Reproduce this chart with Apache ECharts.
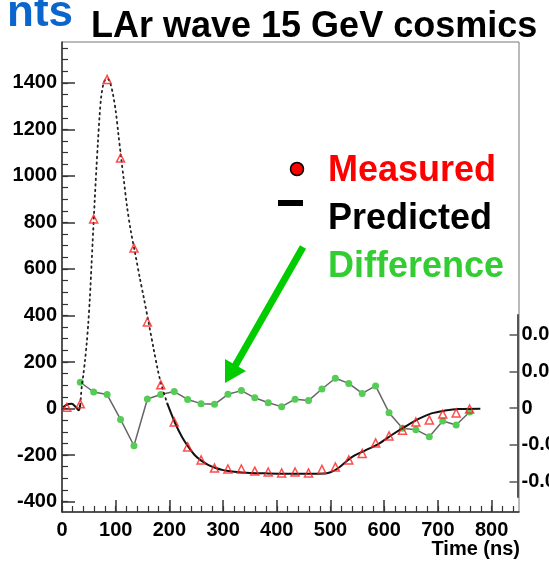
<!DOCTYPE html>
<html>
<head>
<meta charset="utf-8">
<script src="https://cdn.jsdelivr.net/npm/echarts@6/dist/echarts.min.js"></script>
<style>
html, body { margin: 0; padding: 0; background: #fff; }
#main { width: 549px; height: 561px; }
</style>
</head>
<body>
<div id="main"></div>
<script>
// samples every 25 ns
var sampleTime = [9, 34, 59, 84, 109, 134, 159, 184, 209, 234, 259, 284, 309, 334, 359, 384, 409, 434, 459, 484, 509, 534, 559, 584, 609, 634, 659, 684, 709, 734, 759];
var measured = [5, 20, 815, 1415, 1077, 690, 372, 102, -58, -165, -221, -256, -260, -260, -269, -273, -277, -273, -277, -262, -251, -221, -193, -148, -118, -93, -58, -49, -24, -19, -2];

var diffTime = [34, 59, 84, 109, 134, 159, 184, 209, 234, 259, 284, 309, 334, 359, 384, 409, 434, 459, 484, 509, 534, 559, 584, 609, 634, 659, 684, 709, 734, 759];
var difference = [113, 71, 60, -47, -160, 41, 60, 73, 39, 21, 18, 61, 77, 46, 25, 8, 40, 34, 84, 130, 108, 65, 97, -18, -85, -91, -121, -54, -71, -15];

var predTime = [2, 10, 18, 25, 31, 34, 37, 40, 43, 46, 49, 52, 55, 58, 61, 64, 67, 70, 73, 77, 81, 85, 90, 95, 100, 105, 110, 115, 121, 128, 136, 145, 152, 161, 171, 178, 185, 196, 210, 224, 235, 247, 258, 272, 285, 300, 321, 350, 383, 420, 460, 490, 500, 514, 539, 564, 589, 614, 639, 664, 688, 713, 738, 779];
var predicted = [5, 18, 20, 8, -8, 15, 100, 150, 210, 280, 370, 480, 620, 760, 900, 1030, 1150, 1260, 1340, 1395, 1415, 1418, 1398, 1350, 1280, 1180, 1080, 985, 870, 765, 670, 560, 480, 373, 252, 170, 102, 22, -59, -125, -164, -200, -222, -242, -255, -265, -272, -277, -279, -280, -280, -279, -274, -257, -210, -181, -153, -114, -78, -45, -21, -9, -2, -1];

var xLabels = [0, 100, 200, 300, 400, 500, 600, 700, 800];
var yLabels = [-400, -200, 0, 200, 400, 600, 800, 1000, 1200, 1400];
var rightLabels = [-0.04, -0.02, 0, 0.02, 0.04];

var xMinor = [];
for (var i = 0; i <= 840; i += 20) xMinor.push(i);
var yMinor = [];
for (var j = -400; j <= 1550; j += 50) yMinor.push(j);

function pairs(xs, ys, keep) {
    var out = [];
    for (var k = 0; k < xs.length; k++) {
        if (!keep || keep(xs[k])) out.push([xs[k], ys[k]]);
    }
    return out;
}

var font = 'Liberation Sans, Arial, sans-serif';
var axisCol = '#333';
var labelStyle = { color: '#000', fontSize: 20, fontWeight: 'bold', fontFamily: font };
function plain(v) { return String(v); }

var chart = echarts.init(document.getElementById('main'));
var option = {
    animation: false,
    grid: [
        { left: 62, right: 30, top: 42, bottom: 49, show: true, borderColor: '#777', borderWidth: 1 },
        { left: 517, width: 2, top: 315, height: 182 }
    ],
    xAxis: [
        {
            type: 'value', gridIndex: 0, min: 0, max: 851, position: 'bottom',
            axisLine: { onZero: false, lineStyle: { color: axisCol, width: 1.5 } },
            axisTick: { inside: true, length: 12, customValues: xLabels, lineStyle: { color: axisCol, width: 1.5 } },
            axisLabel: Object.assign({ customValues: xLabels, margin: 8, formatter: plain }, labelStyle),
            splitLine: { show: false }
        },
        {
            type: 'value', gridIndex: 0, min: 0, max: 851, position: 'bottom',
            axisLine: { show: false, onZero: false },
            axisTick: { inside: true, length: 6, customValues: xMinor, lineStyle: { color: axisCol, width: 1.2 } },
            axisLabel: { show: false },
            splitLine: { show: false }
        },
        { type: 'value', gridIndex: 1, min: 0, max: 1, show: false }
    ],
    yAxis: [
        {
            type: 'value', gridIndex: 0, min: -445, max: 1576, position: 'left',
            axisLine: { show: true, onZero: false, lineStyle: { color: axisCol, width: 1.5 } },
            axisTick: { show: true, inside: true, length: 13, customValues: yLabels, lineStyle: { color: axisCol, width: 1.5 } },
            axisLabel: Object.assign({ customValues: yLabels, margin: 5, formatter: plain }, labelStyle),
            splitLine: { show: false }
        },
        {
            type: 'value', gridIndex: 0, min: -445, max: 1576, position: 'left',
            axisLine: { show: false, onZero: false },
            axisTick: { show: true, inside: true, length: 6, customValues: yMinor, lineStyle: { color: axisCol, width: 1.2 } },
            axisLabel: { show: false },
            splitLine: { show: false }
        },
        {
            type: 'value', gridIndex: 1, min: -0.0485, max: 0.0507, position: 'right',
            axisLine: { show: true, onZero: false, lineStyle: { color: '#555', width: 2 } },
            axisTick: { show: true, inside: true, length: 8, customValues: rightLabels, lineStyle: { color: '#555', width: 1.5 } },
            axisLabel: Object.assign({
                customValues: rightLabels, margin: 4,
                formatter: function (v) { return v === 0 ? '0' : v.toFixed(2); }
            }, labelStyle),
            splitLine: { show: false }
        }
    ],
    series: [
        {
            name: 'Difference', type: 'line', xAxisIndex: 0, yAxisIndex: 0,
            data: pairs(diffTime, difference),
            symbol: 'circle', symbolSize: 7,
            itemStyle: { color: '#55cc55' },
            lineStyle: { color: '#666', width: 1.5 },
            z: 3
        },
        {
            name: 'Predicted', type: 'line', xAxisIndex: 0, yAxisIndex: 0,
            data: pairs(predTime, predicted, function (t) { return t <= 34; }),
            showSymbol: false, smooth: 0.3,
            lineStyle: { color: '#111', width: 2 }, z: 4
        },
        {
            name: 'Predicted', type: 'line', xAxisIndex: 0, yAxisIndex: 0,
            data: pairs(predTime, predicted, function (t) { return t >= 34 && t <= 196; }),
            showSymbol: false, smooth: 0.3,
            lineStyle: { color: '#222', width: 1.8, type: [1.5, 4], cap: 'round' }, z: 4
        },
        {
            name: 'Predicted', type: 'line', xAxisIndex: 0, yAxisIndex: 0,
            data: pairs(predTime, predicted, function (t) { return t >= 196; }),
            showSymbol: false, smooth: 0.3,
            lineStyle: { color: '#111', width: 2 }, z: 4
        },
        {
            name: 'Measured', type: 'scatter', xAxisIndex: 0, yAxisIndex: 0,
            data: pairs(sampleTime, measured),
            symbol: 'triangle', symbolSize: 8,
            itemStyle: { color: 'rgba(255,255,255,0)', borderColor: '#ff2020', borderWidth: 1.5 },
            z: 5
        }
    ],
    graphic: [
        { type: 'text', style: { text: 'nts', x: 73, y: 14, align: 'right', verticalAlign: 'middle', font: 'bold 44px ' + font, fill: '#0a66cc' } },
        { type: 'text', style: { text: 'LAr wave 15 GeV cosmics', x: 91, y: 27, verticalAlign: 'middle', font: 'bold 36px ' + font, fill: '#000' } },
        { type: 'circle', shape: { cx: 297, cy: 169, r: 6.5 }, style: { fill: '#ff0000', stroke: '#000', lineWidth: 1.5 } },
        { type: 'rect', shape: { x: 278, y: 200, width: 25, height: 6 }, style: { fill: '#000' } },
        { type: 'line', shape: { x1: 303, y1: 247, x2: 235, y2: 366 }, style: { stroke: '#00cc00', lineWidth: 7 } },
        { type: 'polygon', shape: { points: [[225, 383], [225, 359], [246, 371]] }, style: { fill: '#00cc00' } },
        { type: 'text', style: { text: 'Measured', x: 328, y: 171, verticalAlign: 'middle', font: 'bold 36px ' + font, fill: '#ff0000' } },
        { type: 'text', style: { text: 'Predicted', x: 328, y: 219, verticalAlign: 'middle', font: 'bold 36px ' + font, fill: '#000' } },
        { type: 'text', style: { text: 'Difference', x: 328, y: 267, verticalAlign: 'middle', font: 'bold 36px ' + font, fill: '#33cc33' } },
        { type: 'text', style: { text: 'Time (ns)', x: 520, y: 549, align: 'right', verticalAlign: 'middle', font: 'bold 20px ' + font, fill: '#000' } }
    ]
};
chart.setOption(option);
</script>
</body>
</html>
